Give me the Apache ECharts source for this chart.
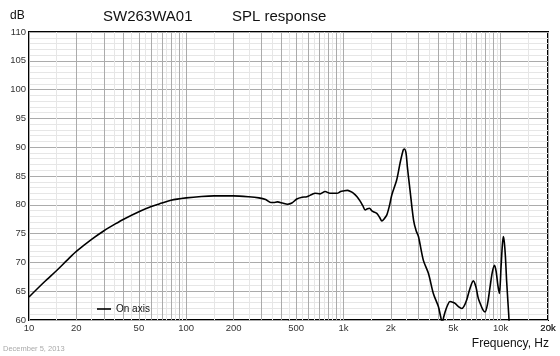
<!DOCTYPE html>
<html>
<head>
<meta charset="utf-8">
<script src="https://cdn.jsdelivr.net/npm/echarts@6/dist/echarts.min.js"></script>
<style>
html,body{margin:0;padding:0;background:#fff;}
#chart{width:560px;height:356px;}
</style>
</head>
<body>
<div id="chart"></div>
<script>
// ---- data ----
const freqHz = [10, 12.5, 15, 17.5, 20, 25, 30, 35, 40, 50, 60, 70, 80, 100, 125, 150, 200, 250, 290, 320, 345, 360, 380, 410, 440, 470, 505, 545, 585, 630, 660, 710, 765, 820, 870, 910, 960, 1000, 1060, 1110, 1160, 1220, 1280, 1330, 1375, 1420, 1465, 1510, 1550, 1630, 1700, 1755, 1820, 1885, 1960, 2030, 2180, 2290, 2400, 2440, 2500, 2550, 2650, 2790, 2900, 3000, 3220, 3470, 3730, 4020, 4150, 4250, 4350, 4430, 4600, 4760, 4950, 5130, 5350, 5660, 5850, 6085, 6350, 6700, 6950, 7200, 7400, 7700, 7950, 8250, 8565, 8850, 9125, 9350, 9600, 9815, 10060, 10250, 10400, 10550, 10720, 10900, 11100, 11300, 11500];
const splOnAxis = [64.0, 66.6, 68.6, 70.4, 71.9, 74.0, 75.5, 76.6, 77.5, 78.8, 79.7, 80.3, 80.8, 81.2, 81.45, 81.55, 81.55, 81.4, 81.2, 80.9, 80.4, 80.4, 80.5, 80.3, 80.1, 80.3, 81.0, 81.3, 81.4, 81.8, 82.0, 81.9, 82.3, 82.0, 82.0, 82.0, 82.3, 82.4, 82.5, 82.3, 82.0, 81.4, 80.6, 79.8, 79.1, 79.3, 79.4, 79.0, 78.8, 78.5, 77.8, 77.2, 77.6, 78.2, 79.8, 81.7, 84.3, 87.2, 89.5, 89.7, 89.0, 86.6, 82.6, 77.4, 75.5, 74.5, 70.4, 68.1, 64.6, 62.3, 60.6, 59.6, 60.6, 61.4, 62.6, 63.2, 63.1, 62.9, 62.4, 62.0, 62.4, 63.5, 65.3, 66.8, 65.8, 63.8, 62.9, 61.8, 61.4, 62.8, 65.8, 68.3, 69.5, 68.5, 66.0, 64.6, 69.3, 73.0, 74.5, 73.5, 71.0, 67.0, 63.5, 60.0, 55.0];
const xTickValues = [10, 20, 50, 100, 200, 500, 1000, 2000, 5000, 10000, 20000];
const xTickLabels = ['10', '20', '50', '100', '200', '500', '1k', '2k', '5k', '10k', '20k'];
const gridMultipliers = [1, 2, 3, 4, 5, 6, 7, 8, 9];
const gridHalfMultipliers = [1.5, 2.5, 3.5, 4.5, 5.5, 6.5, 7.5, 8.5, 9.5];
const decades = [10, 100, 1000, 10000];
const seriesName = 'On axis';
const titleText = 'SW263WA01';
const subtitleText = 'SPL response';
const yUnit = 'dB';
const xName = 'Frequency, Hz';
const dateText = 'December 5, 2013';

// ---- build ----
const FONT = '"Liberation Sans", Arial, Helvetica, sans-serif';
const lineData = freqHz.map((f, i) => [f, splOnAxis[i]]);

const markData = [];
function addLine(v, color) {
  const idx = xTickValues.indexOf(v);
  markData.push({
    xAxis: v,
    lineStyle: { color: color, width: 1, type: 'solid' },
    label: idx >= 0 ? {
      show: true, position: 'start', distance: 3, formatter: xTickLabels[idx],
      fontSize: 9.5, color: '#333', fontFamily: FONT
    } : { show: false }
  });
}
decades.forEach(d => {
  gridHalfMultipliers.forEach(m => { const v = d * m; if (v < 20000) addLine(v, '#e6e6e6'); });
});
decades.forEach(d => {
  gridMultipliers.forEach(m => { const v = d * m; if (v <= 20000) addLine(v, '#ababab'); });
});
addLine(20000, '#ababab');

const chart = echarts.init(document.getElementById('chart'), null, { renderer: 'canvas' });
chart.setOption({
  animation: false,
  backgroundColor: '#fff',
  textStyle: { fontFamily: FONT },
  grid: { left: 29, top: 32, right: 12, bottom: 36, show: true, borderColor: '#000', borderWidth: 2, backgroundColor: 'transparent' },
  xAxis: {
    type: 'log', logBase: 10, min: 10, max: 20000,
    axisLine: { show: false }, axisTick: { show: false }, axisLabel: { show: false },
    splitLine: { show: false }, minorSplitLine: { show: false }
  },
  yAxis: {
    type: 'value', min: 60, max: 110, interval: 5,
    axisLine: { show: false }, axisTick: { show: false },
    axisLabel: { fontSize: 9.5, color: '#333', margin: 3, fontFamily: FONT },
    splitLine: { show: true, lineStyle: { color: '#ababab', width: 1 } },
    minorTick: { show: false, splitNumber: 5 },
    minorSplitLine: { show: true, lineStyle: { color: '#e6e6e6', width: 1 } }
  },
  legend: {
    left: 92, top: 299, itemWidth: 14, itemHeight: 1.6, icon: 'rect',
    itemStyle: { color: '#000', borderWidth: 0 },
    textStyle: { fontSize: 10, color: '#111', fontFamily: FONT },
    data: [seriesName]
  },
  series: [
    {
      type: 'line', name: '_grid', data: [], clip: false, silent: true, z: 1,
      markLine: { silent: true, symbol: ['none', 'none'], z: 1, animation: false, data: markData }
    },
    {
      type: 'line', name: seriesName, data: lineData, showSymbol: false, symbol: 'none',
      smooth: 0.3, clip: true, z: 5,
      lineStyle: { color: '#000', width: 1.6 }, itemStyle: { color: '#000' }
    }
  ],
  graphic: [
    { type: 'text', left: 10, top: 10, style: { text: yUnit, fontSize: 12, fill: '#111', fontFamily: FONT } },
    { type: 'text', left: 103, top: 9, style: { text: titleText, fontSize: 15, fill: '#111', fontFamily: FONT } },
    { type: 'text', left: 232, top: 9, style: { text: subtitleText, fontSize: 15, fill: '#111', fontFamily: FONT } },
    { type: 'text', right: 11, top: 338, style: { text: xName, fontSize: 12, fill: '#111', fontFamily: FONT } },
    { type: 'text', left: 3, top: 345, style: { text: dateText, fontSize: 7.5, fill: '#aaa', fontFamily: FONT } }
  ]
});
</script>
</body>
</html>
